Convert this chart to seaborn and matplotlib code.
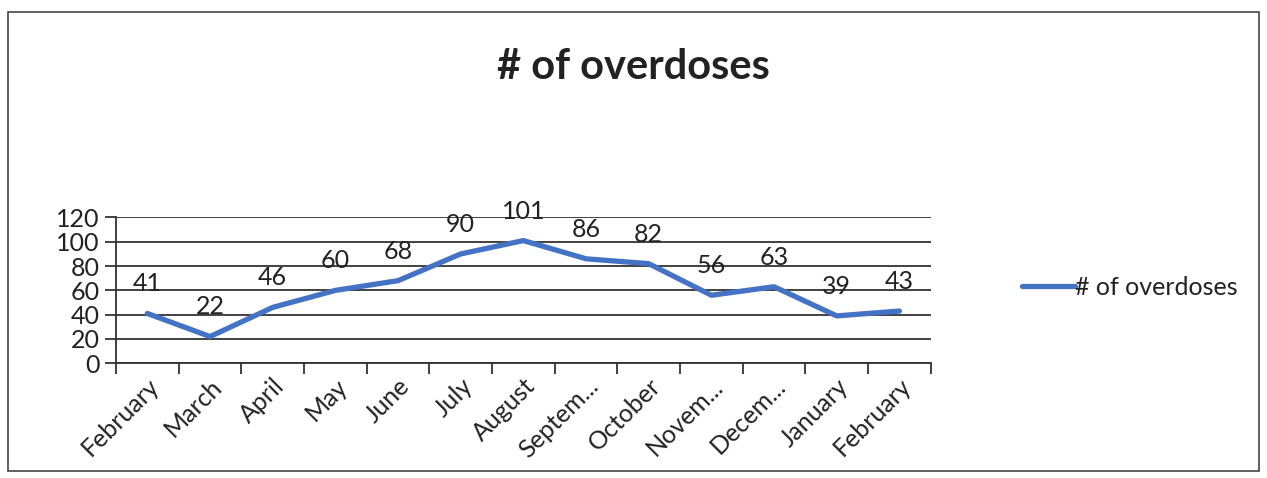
import numpy as np
import pandas as pd
import seaborn as sns
import matplotlib.pyplot as plt
from matplotlib.patches import Rectangle
from matplotlib.ticker import FixedLocator

months = ['February', 'March', 'April', 'May', 'June', 'July', 'August',
          'Septem...', 'October', 'Novem...', 'Decem...', 'January', 'February']
overdoses = [41, 22, 46, 60, 68, 90, 101, 86, 82, 56, 63, 39, 43]
y_ticks = [0, 20, 40, 60, 80, 100, 120]

sns.set_style('white')
plt.rcParams['font.family'] = ['Lato', 'DejaVu Sans']

df = pd.DataFrame({'pos': np.arange(len(months)), 'count': overdoses})

fig = plt.figure(figsize=(12.67, 4.78), dpi=100)
ax = fig.add_axes([0.0916, 0.24, 0.643, 0.305])

sns.lineplot(data=df, x='pos', y='count', ax=ax, color='#4472C4',
             linewidth=3.8, label='# of overdoses')

for i, v in enumerate(overdoses):
    ax.annotate(str(v), (i, v), xytext=(0, 13), textcoords='offset points',
                ha='center', va='bottom', fontsize=18, color='#222222')

ax.set_xlim(-0.5, len(months) - 0.5)
ax.set_ylim(0, 120)
ax.set_yticks(y_ticks)
ax.set_yticklabels([str(t) for t in y_ticks], fontsize=18, color='#222222')
ax.set_xticks(np.arange(len(months)))
ax.set_xticklabels(months, rotation=45, ha='right', rotation_mode='anchor',
                   fontsize=18, color='#222222')
ax.xaxis.set_minor_locator(FixedLocator(np.arange(-0.5, len(months), 1)))
ax.tick_params(axis='x', which='major', length=0, pad=8)
ax.tick_params(axis='x', which='minor', length=8, width=1.3, color='#333333',
               direction='out', bottom=True)
ax.tick_params(axis='y', length=8, width=1.3, color='#333333', left=True, pad=4)
ax.grid(axis='y', color='#333333', linewidth=1.3)
ax.set_axisbelow(True)
for s in ['top', 'right']:
    ax.spines[s].set_visible(False)
for s in ['left', 'bottom']:
    ax.spines[s].set_color('#333333')
    ax.spines[s].set_linewidth(1.3)
ax.set_xlabel('')
ax.set_ylabel('')

ax.legend(loc='center left', bbox_to_anchor=(1.085, 0.52), frameon=False,
          fontsize=18, handlelength=2.1, handletextpad=0.0,
          labelcolor='#222222')

fig.suptitle('# of overdoses', x=0.5, y=0.9, fontsize=30,
             fontweight='bold', color='#222222')

fig.patches.append(Rectangle((0.006, 0.015), 0.988, 0.96,
                             transform=fig.transFigure, fill=False,
                             edgecolor='#444444', linewidth=1.2))

fig.savefig('out.png', dpi=100)
